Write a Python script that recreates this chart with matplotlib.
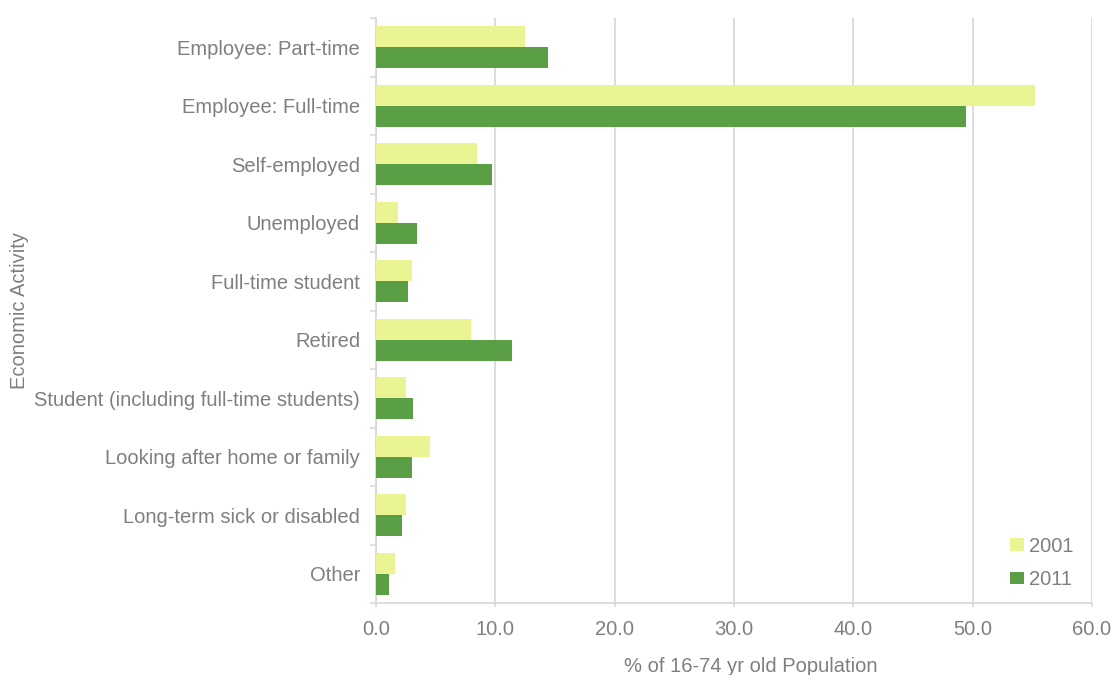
import matplotlib
matplotlib.use("Agg")
import matplotlib.pyplot as plt
import numpy as np

categories = ["Employee: Part-time", "Employee: Full-time", "Self-employed", "Unemployed",
              "Full-time student", "Retired", "Student (including full-time students)",
              "Looking after home or family", "Long-term sick or disabled", "Other"]
values_2001 = [12.5, 55.2, 8.5, 1.85, 3.0, 8.0, 2.5, 4.5, 2.5, 1.6]
values_2011 = [14.4, 49.4, 9.75, 3.45, 2.7, 11.4, 3.1, 3.0, 2.2, 1.1]
xticks = [0, 10, 20, 30, 40, 50, 60]

plt.rcParams['font.family'] = ['Liberation Sans', 'DejaVu Sans']
gray = '#7f7f7f'
fs = 14.5

fig = plt.figure(figsize=(11.14, 6.75), dpi=100)
ax = fig.add_axes([376/1114, 1-603/675, (1092-376)/1114, (603-18)/675])

n = len(categories)
pos = np.arange(n)
h = 0.358
ax.barh(pos - h/2, values_2001, height=h, color='#eaf492', label='2001', zorder=3)
ax.barh(pos + h/2, values_2011, height=h, color='#5a9f45', label='2011', zorder=3)

ax.set_ylim(n - 0.5, -0.5)
ax.set_xlim(0, 60)
ax.set_xticks(xticks)
ax.set_xticklabels([f"{v:.1f}" for v in xticks], color=gray, fontsize=fs)
ax.set_yticks(pos)
ax.set_yticklabels(categories, color=gray, fontsize=fs)
ax.set_yticks(np.arange(n + 1) - 0.5, minor=True)
ax.tick_params(axis='y', which='major', length=0, pad=11.5)
ax.tick_params(axis='y', which='minor', length=4, color='#d9d9d9', width=1.2)
ax.tick_params(axis='x', length=3, color='#d9d9d9', width=1.2, pad=9)

ax.grid(axis='x', color='#d9d9d9', linewidth=1.3, zorder=0)
for s in ['top', 'right']:
    ax.spines[s].set_visible(False)
for s in ['left', 'bottom']:
    ax.spines[s].set_color('#d9d9d9')
    ax.spines[s].set_linewidth(1.3)

ax.set_xlabel("% of 16-74 yr old Population", color=gray, fontsize=fs)
ax.xaxis.set_label_coords((751-376)/716, -(666-603)/585)
ax.xaxis.label.set_va('center')
ax.set_ylabel("Economic Activity", color=gray, fontsize=fs)
ax.yaxis.set_label_coords(-(376-20)/716, 0.5)
ax.yaxis.label.set_va('center')

leg = ax.legend(loc='lower right', frameon=False, fontsize=fs, handlelength=0.7,
                handleheight=0.6, labelspacing=0.7, handletextpad=0.2,
                borderpad=0, borderaxespad=0,
                bbox_to_anchor=(1073/1114, 1-589/675), bbox_transform=fig.transFigure)
for t in leg.get_texts():
    t.set_color(gray)

fig.savefig("out.png", dpi=100)
